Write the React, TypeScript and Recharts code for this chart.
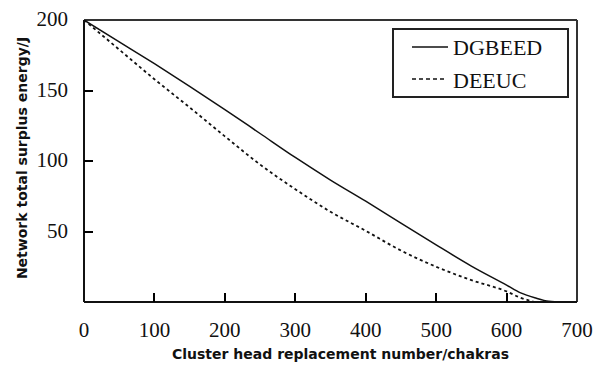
import React from 'react';
import { LineChart, Line, XAxis, YAxis, ReferenceLine } from 'recharts';

const xTicks = [0, 100, 200, 300, 400, 500, 600, 700];
const yTicks = [50, 100, 150, 200];

const dgbeedX = [0, 50, 100, 150, 200, 250, 300, 350, 400, 450, 500, 550, 600, 620, 640, 660, 680];
const dgbeedY = [200, 184.5, 169, 153, 136.5, 119.5, 102.5, 86.5, 71.5, 56, 40.5, 25.5, 12, 6.5, 3, 0.5, 0];

const deeucX = [0, 50, 100, 150, 200, 250, 300, 350, 400, 450, 500, 550, 600, 620, 640];
const deeucY = [200, 179, 158, 138, 117.5, 97.5, 80, 64, 50.5, 36.5, 25, 15.5, 7.5, 3, 0];

const dgbeedData = dgbeedX.map((x, i) => ({ x, y: dgbeedY[i] }));
const deeucData = deeucX.map((x, i) => ({ x, y: deeucY[i] }));

const serif = '"Liberation Serif", "Times New Roman", serif';
const sans = '"DejaVu Sans", Verdana, sans-serif';

const XTick = (props: any) => {
  const { x, y, payload } = props;
  const showLine = payload.value !== 0 && payload.value !== 700;
  const px = Math.round(x);
  return (
    <g>
      {showLine && (
        <rect x={px - 1} y={y - 9} width={2} height={9} fill="#000" stroke="none" />
      )}
      <text x={x} y={y + 35} textAnchor="middle" fontFamily={serif} fontSize={21} fill="#111">
        {payload.value}
      </text>
    </g>
  );
};

const YTick = (props: any) => {
  const { x, y, payload } = props;
  const showLine = payload.value !== 200;
  const py = Math.round(y);
  return (
    <g>
      {showLine && (
        <rect x={x} y={py - 1} width={9} height={2} fill="#000" stroke="none" />
      )}
      <text x={x - 16} y={y + 6} textAnchor="end" fontFamily={serif} fontSize={21} fill="#111">
        {payload.value}
      </text>
    </g>
  );
};

const LegendBox = () => (
  <div
    style={{
      position: 'absolute',
      left: 392,
      top: 28,
      width: 173,
      height: 66,
      border: '2px solid #222',
      background: '#fff',
    }}
  >
    <svg width={173} height={66} style={{ position: 'absolute', left: 0, top: 0 }}>
      <line x1={18} x2={54} y1={17} y2={17} stroke="#111" strokeWidth={1.5} />
      <line x1={18} x2={52} y1={49} y2={49} stroke="#111" strokeWidth={1.5} strokeDasharray="4 3" />
      <text x={59} y={25} fontFamily={serif} fontSize={22} fill="#111">DGBEED</text>
      <text x={59} y={58} fontFamily={serif} fontSize={22} fill="#111">DEEUC</text>
    </svg>
  </div>
);

export default function App() {
  return (
    <div style={{ position: 'absolute', left: 0, top: 0, width: 603, height: 366, background: '#fff' }}>
      <LineChart width={603} height={366} margin={{ top: 20, right: 26, bottom: 4, left: 0 }}>
        <XAxis
          type="number"
          dataKey="x"
          domain={[0, 700]}
          ticks={xTicks}
          interval={0}
          height={60}
          stroke="#111"
          strokeWidth={2}
          tickSize={0}
          tickMargin={0}
          tickLine={false}
          tick={<XTick />}
          allowDataOverflow
          label={{
            value: 'Cluster head replacement number/chakras',
            position: 'insideBottom',
            offset: 3,
            dx: 10,
            style: { fontFamily: sans, fontWeight: 'bold', fontSize: 14, fill: '#111' },
          }}
        />
        <YAxis
          type="number"
          domain={[0, 200]}
          ticks={yTicks}
          interval={0}
          width={84}
          stroke="#111"
          strokeWidth={2}
          tickSize={0}
          tickMargin={0}
          tickLine={false}
          tick={<YTick />}
          allowDataOverflow
          label={{
            value: 'Network total surplus energy/J',
            angle: -90,
            position: 'insideLeft',
            offset: 22,
            dy: -3,
            style: { textAnchor: 'middle', fontFamily: sans, fontWeight: 'bold', fontSize: 14, fill: '#111' },
          }}
        />
        <ReferenceLine y={200} stroke="#333" strokeWidth={2} />
        <ReferenceLine x={700} stroke="#333" strokeWidth={2} />
        <Line
          data={dgbeedData}
          dataKey="y"
          name="DGBEED"
          type="monotone"
          stroke="#111"
          strokeWidth={1.5}
          dot={false}
          isAnimationActive={false}
        />
        <Line
          data={deeucData}
          dataKey="y"
          name="DEEUC"
          type="monotone"
          stroke="#111"
          strokeWidth={1.8}
          strokeDasharray="3 3"
          dot={false}
          isAnimationActive={false}
        />
      </LineChart>
      <LegendBox />
    </div>
  );
}
